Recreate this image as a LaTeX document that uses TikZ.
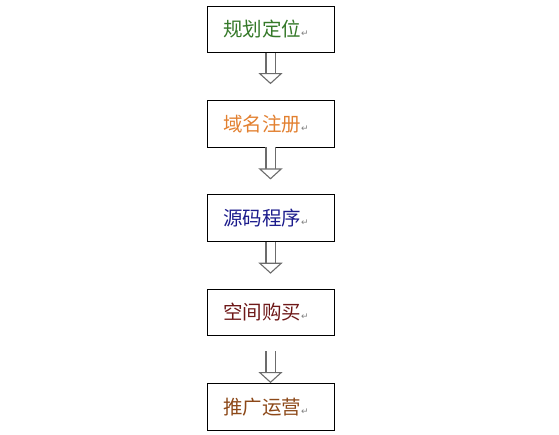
\documentclass[tikz,border=0pt]{standalone}
\usepackage{fontspec}
\newfontfamily\cjk{Noto Sans CJK SC}
\newfontfamily\symb{DejaVu Sans}
\usetikzlibrary{positioning, arrows.meta}
\definecolor{cgreen}{RGB}{52,120,40}
\definecolor{corange}{RGB}{226,128,48}
\definecolor{cblue}{RGB}{28,28,140}
\definecolor{cred}{RGB}{110,24,24}
\definecolor{cbrown}{RGB}{140,72,24}
\newcommand{\pmark}{{\symb\fontsize{9}{10}\selectfont\color{gray}↵}}

\begin{document}
\begin{tikzpicture}[node distance=47pt,
  box/.style={draw, line width=0.8pt, minimum height=46.5pt, text width=95pt, inner xsep=16pt, align=left, font=\cjk\fontsize{19.5}{23}\selectfont},
  hollow/.style={draw=gray!85!black, line width=1.1pt, double=white, double distance=8pt, -{Triangle[open, length=11pt, width=24pt, fill=white]}}]
  \useasboundingbox (0,0) rectangle (559pt,-435pt);
  \node[box, text=cgreen] at (270.5pt,-29.5pt) (A)  {规划定位\pmark};
  \node[box, text=corange, below=of A] (B)  {域名注册\pmark};
  \node[box, text=cblue, below=of B]   (C)  {源码程序\pmark};
  \node[box, text=cred, below=of C]    (D)  {空间购买\pmark};
  \node[box, text=cbrown, below=of D]  (E)  {推广运营\pmark};

  \draw[hollow, shorten >=16pt] (A) -- (B);
  \draw[hollow, shorten >=15pt] (B) -- (C);
  \draw[hollow, shorten >=15pt] (C) -- (D);
  \draw[hollow, shorten <=15pt] (D) -- (E);
\end{tikzpicture}
\end{document}
